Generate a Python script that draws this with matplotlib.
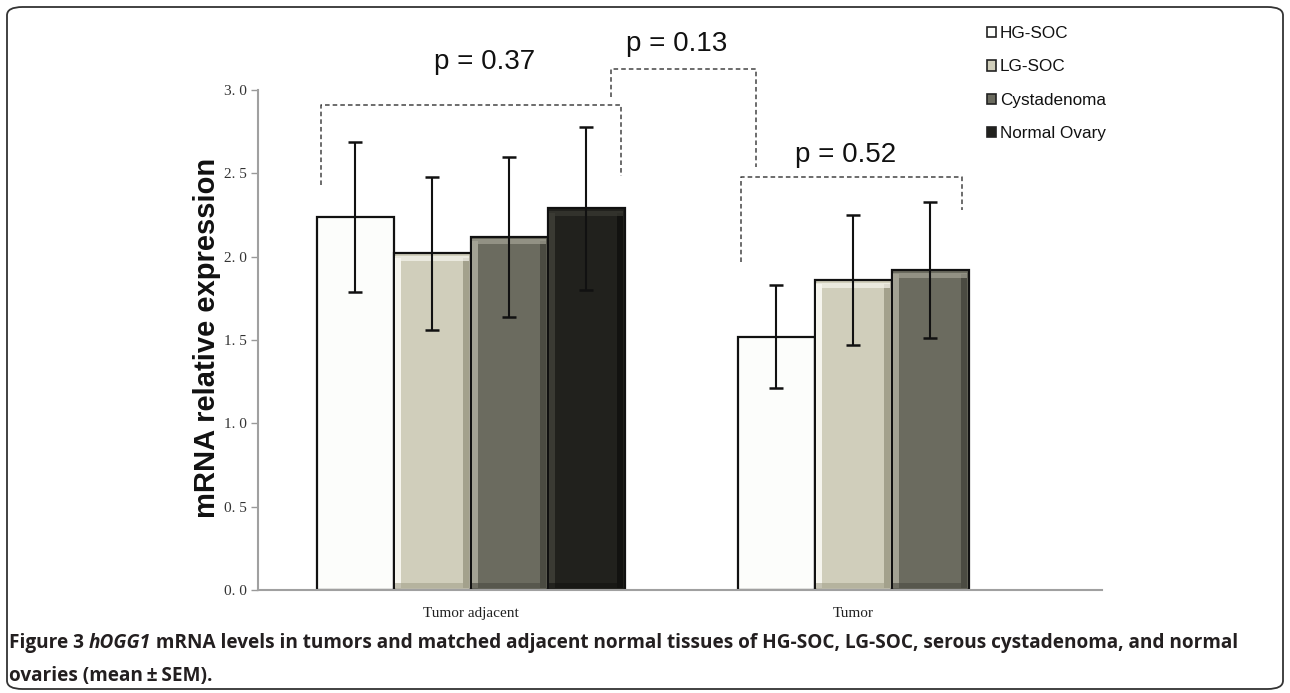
import numpy as np
import matplotlib
matplotlib.use("Agg")
import matplotlib.pyplot as plt
from matplotlib.patches import Patch, FancyBboxPatch

# ---------------- data ----------------
groups = ["Tumor adjacent", "Tumor"]
series = ["HG-SOC", "LG-SOC", "Cystadenoma", "Normal Ovary"]
# means per series for [Tumor adjacent, Tumor]
hg_soc = [2.24, 1.52]
lg_soc = [2.02, 1.86]
cystadenoma = [2.12, 1.92]
normal_ovary = [2.29, np.nan]
# SEM per series
hg_soc_err = [0.45, 0.31]
lg_soc_err = [0.46, 0.39]
cystadenoma_err = [0.48, 0.41]
normal_ovary_err = [0.49, np.nan]
yticks = [0.0, 0.5, 1.0, 1.5, 2.0, 2.5, 3.0]
ytick_labels = ["0. 0", "0. 5", "1. 0", "1. 5", "2. 0", "2. 5", "3. 0"]
p_values = ["p = 0.37", "p = 0.13", "p = 0.52"]

means = [hg_soc, lg_soc, cystadenoma, normal_ovary]
errs = [hg_soc_err, lg_soc_err, cystadenoma_err, normal_ovary_err]

# ---------------- style ----------------
face = ["#fcfdfb", "#d0cebb", "#6b6b5f", "#21211d"]
hi = [None, "#f6f5ee", "#a3a294", "#3a3a33"]
sh = [None, "#a3a18c", "#4b4b42", "#121210"]

W, H = 1290, 693
fig = plt.figure(figsize=(W / 100, H / 100), dpi=100)
fig.patch.set_facecolor("white")

ax_l, ax_r, ax_b, ax_t = 258, 1102, 590, 90
ax = fig.add_axes([ax_l / W, 1 - ax_b / H, (ax_r - ax_l) / W, (ax_b - ax_t) / H])

bar_px = 77.0
xmax = (ax_r - ax_l) / bar_px
group_start = [(355 - ax_l) / bar_px, (776 - ax_l) / bar_px]
bw = 1.0

group_centers = []
for gi, g in enumerate(groups):
    xs_present = []
    for si in range(len(series)):
        v = means[si][gi]
        if np.isnan(v):
            continue
        x = group_start[gi] + si
        xs_present.append(x)
        ax.bar(x, v, width=bw, color=face[si], edgecolor="#111111", linewidth=1.6, zorder=2)
        if hi[si] is not None:
            s = 0.08
            ax.bar(x - bw / 2 + 0.015, v - 0.04, bottom=0.015, width=s, align="edge",
                   color=hi[si], linewidth=0, zorder=3)
            ax.bar(x + bw / 2 - 0.015 - s, v - 0.04, bottom=0.015, width=s, align="edge",
                   color=sh[si], linewidth=0, zorder=3)
            ax.bar(x, 0.03, bottom=v - 0.045, width=bw - 0.04, color=hi[si], linewidth=0,
                   zorder=3, alpha=0.7)
            ax.bar(x, 0.03, bottom=0.015, width=bw - 0.04, color=sh[si], linewidth=0,
                   zorder=3, alpha=0.6)
        ax.errorbar(x, v, yerr=errs[si][gi], fmt="none", ecolor="#111111",
                    elinewidth=1.5, capsize=5, capthick=1.8, zorder=4)
    group_centers.append(np.mean(xs_present))

ax.set_xlim(0, xmax)
ax.set_ylim(0, 3.0)
ax.set_yticks(yticks)
ax.set_yticklabels(ytick_labels, fontfamily="Liberation Serif", fontsize=11, color="#333333")
ax.set_xticks(group_centers)
ax.set_xticklabels(groups, fontfamily="Liberation Serif", fontsize=11, color="#222222")
ax.tick_params(axis="x", length=0, pad=12)
ax.tick_params(axis="y", length=5, width=1, color="#999999", pad=3)
for sp in ["top", "right"]:
    ax.spines[sp].set_visible(False)
for sp in ["left", "bottom"]:
    ax.spines[sp].set_color("#a0a0a0")
    ax.spines[sp].set_linewidth(1.5)


# ---------------- significance brackets ----------------
def px2d(px, py):
    return (px - ax_l) / bar_px, (ax_b - py) / (ax_b - ax_t) * 3.0


def bracket(pts):
    d = [px2d(*p) for p in pts]
    ax.plot([p[0] for p in d], [p[1] for p in d], linestyle=(0, (3, 2)), color="#444444",
            linewidth=1.1, clip_on=False, zorder=5)


bracket([(321, 185), (321, 105), (621, 105), (621, 176)])
bracket([(611, 97), (611, 69), (756, 69), (756, 167)])
bracket([(741, 262), (741, 177), (962, 177), (962, 210)])

for (px, py), t in zip([(485, 62), (677, 44), (846, 155)], p_values):
    x, y = px2d(px, py)
    ax.text(x, y, t, ha="center", va="center", fontfamily="Liberation Sans", fontsize=20,
            color="#111111", clip_on=False)

# y label
fig.text(207 / W, 1 - 338 / H, "mRNA relative expression", rotation=90, ha="center", va="center",
         fontfamily="Liberation Sans", fontweight="bold", fontsize=21, color="#111111")

# legend
handles = [Patch(facecolor=face[i], edgecolor="#222222", linewidth=1.2) for i in range(4)]
leg = fig.legend(handles, series, loc="upper left", bbox_to_anchor=(987 / W, 1 - 26 / H),
                 frameon=False, prop={"family": "Liberation Sans", "size": 12.3},
                 handlelength=0.55, handleheight=0.55, handletextpad=0.2, labelspacing=1.08,
                 borderpad=0, borderaxespad=0)
for t in leg.get_texts():
    t.set_color("#111111")

# frame
frame = FancyBboxPatch((7 / W, 4 / H), (1283 - 7) / W, (686 - 4) / H,
                       boxstyle="round,pad=0,rounding_size=0.012", transform=fig.transFigure,
                       fill=False, edgecolor="#333333", linewidth=1.3, zorder=0)
fig.patches.append(frame)

# caption (mixed styles)
fig.canvas.draw()
renderer = fig.canvas.get_renderer()
cap_font = "Open Sans"
cap_size = 13.7
cap_color = "#231f20"


def run_text(x_px, y_px, pieces):
    x = x_px
    for txt, style in pieces:
        t = fig.text(x / W, 1 - y_px / H, txt, ha="left", va="baseline", fontfamily=cap_font,
                     fontsize=cap_size, fontweight="bold", fontstyle=style, color=cap_color)
        bb = t.get_window_extent(renderer)
        x += bb.width


run_text(9, 648, [("Figure 3 ", "normal"), ("hOGG1", "italic"),
                  (" mRNA levels in tumors and matched adjacent normal tissues of HG-SOC, LG-SOC, serous cystadenoma, and normal", "normal")])
run_text(9, 681, [("ovaries (mean\u2009\u00b1\u2009SEM).", "normal")])

fig.savefig("out.png", dpi=100, facecolor="white")
